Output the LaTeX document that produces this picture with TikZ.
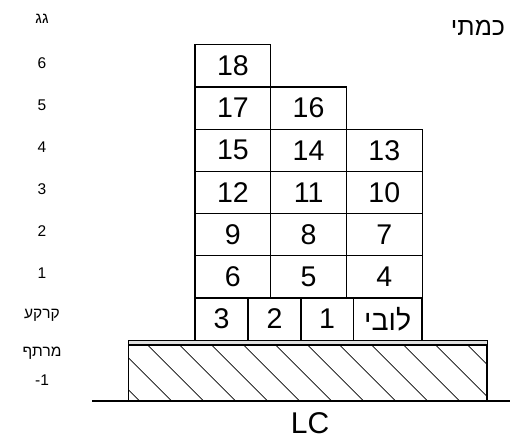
\documentclass[tikz,border=0pt]{standalone}
\usepackage{fontspec}
\setmainfont{Liberation Sans}
\newfontfamily\hebfont[Script=Hebrew]{Liberation Sans}
\TeXXeTstate=1
\usetikzlibrary{calc}

\tikzset{
  cell/.style={draw, line width=1.2pt, inner sep=0pt, minimum width=75.7pt,
    minimum height=42.2pt, font=\fontsize{28.5}{30}\selectfont},
  gcell/.style={cell, minimum width=53pt},
  floor/.style={font=\fontsize{15.5}{29}\selectfont, align=center}
}

\begin{document}
\begin{tikzpicture}[x=1pt, y=-1pt]
  \useasboundingbox (0,0) rectangle (510,439);

  % Floors 1 to 4
  \foreach \f in {1,...,4}
    \foreach \c in {1,2,3} {
      \pgfmathtruncatemacro\n{3*\f+4-\c}
      \node[cell] (c\n) at ({157.15+75.7*\c},{319-42.2*\f}) {\n};
    }

  % Upper floors
  \node[cell] (c17) at (232.85,108) {17};
  \node[cell] (c16) at (308.55,108) {16};
  \node[cell] (c18) at (232.85,65.8) {18};

  % Ground floor
  \node[gcell] (g3) at (221.5,319) {3};
  \node[gcell] (g2) at (274.5,319) {2};
  \node[gcell, minimum width=52.3pt] (g1) at (327.15,319) {1};
  \node[gcell, minimum width=68.7pt] (lobby) at (387.65,319)
    {\hebfont\beginR לובי\endR};

  % Basement
  \draw[line width=1pt, fill=black!12] (128.5,340) rectangle (487,345);
  \begin{scope}
    \clip (128.5,345) rectangle (487,401);
    \foreach \k in {-3,...,11}
      \draw[line width=0.8pt] ({147.6+32*\k},345) -- ({203.6+32*\k},401);
  \end{scope}
  \draw[line width=1.2pt] (128.5,345) rectangle (487,401);
  \draw[line width=2pt] (92,401) -- (510,401);

  % Floor numbers
  \node[floor] (lv7) at (42,19) {\hebfont\beginR גג\endR};
  \foreach \i in {1,...,6}
    \node[floor] (lv\i) at (42,{315-42*\i}) {\i};
  \node[floor] (lv0) at (42,315) {\hebfont\beginR קרקע\endR};
  \node[floor] (lvb) at (42,366.5) {\hebfont\beginR מרתף\endR\\-1};

  \node[font=\fontsize{25}{27}\selectfont] (title) at (478,28)
    {\hebfont\beginR כמתי\endR};
  \node[font=\fontsize{30}{32}\selectfont] (lc) at (310,423) {LC};
\end{tikzpicture}
\end{document}
